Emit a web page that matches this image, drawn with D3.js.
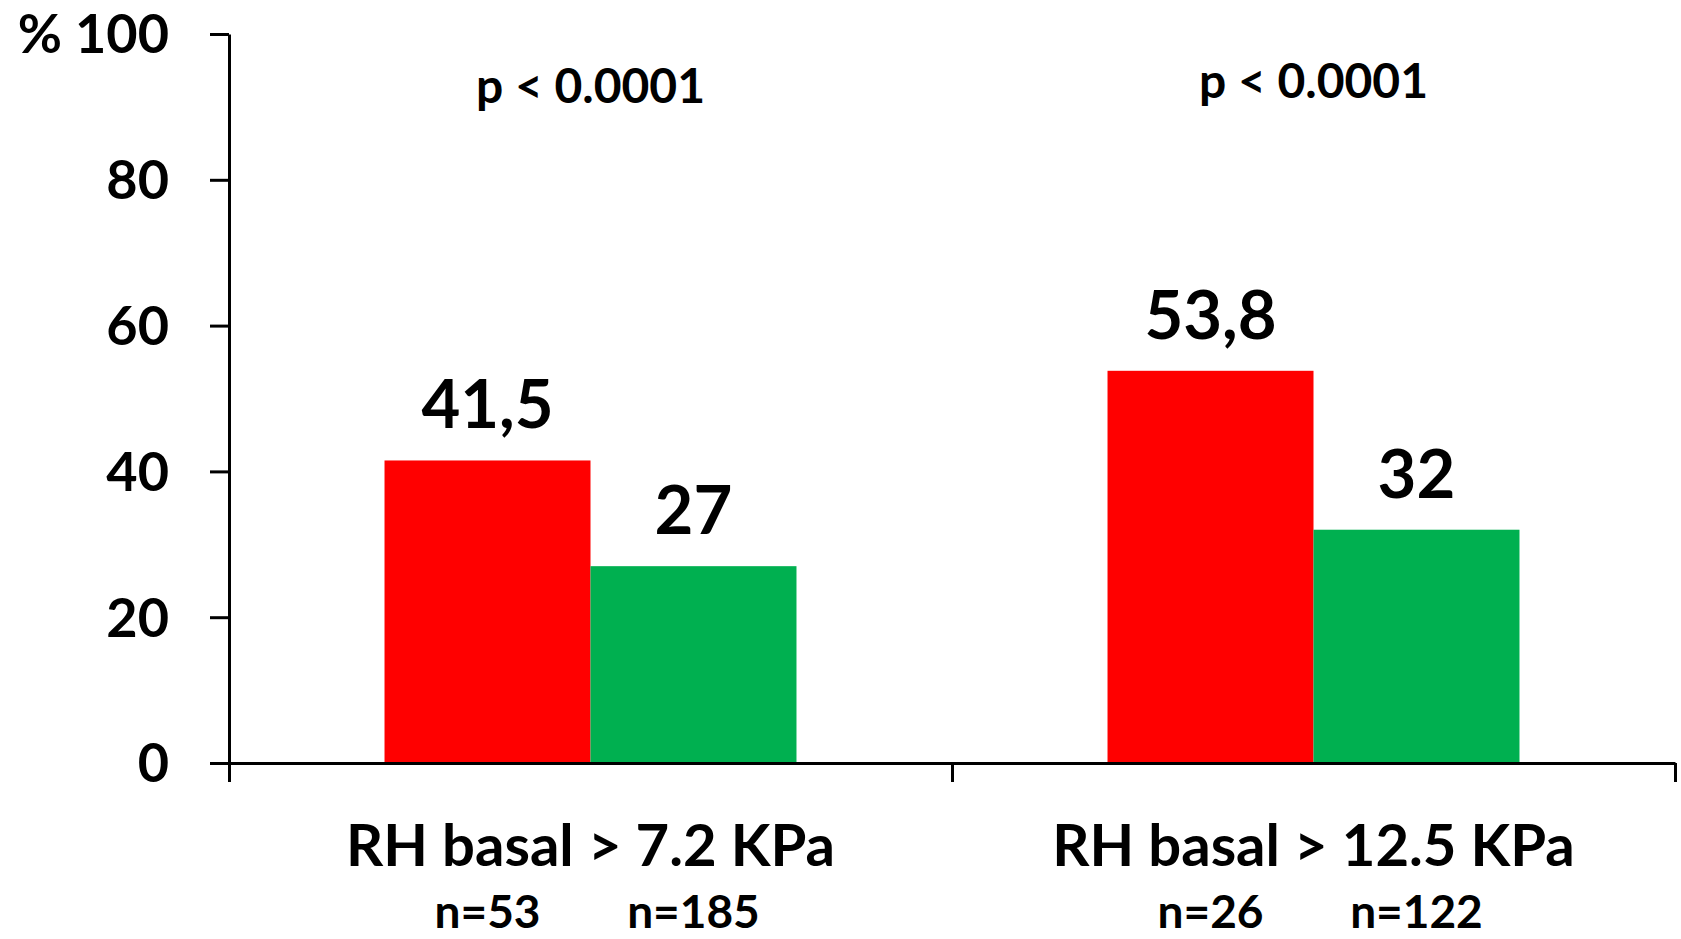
<!DOCTYPE html>
<html>
<head>
<meta charset="utf-8">
<script src="https://cdn.jsdelivr.net/npm/d3@7"></script>
<style>
  html, body { margin: 0; padding: 0; background: #fff; }
  svg { display: block; }
  text { font-family: Lato, "Open Sans", sans-serif; font-weight: 700; fill: #000; }
</style>
</head>
<body>
<svg id="chart" width="1681" height="939"></svg>
<script>
// ---- data ----
const categories = ["RH basal > 7.2 KPa", "RH basal > 12.5 KPa"];
const seriesNames = ["high", "low"];
const highValues = [41.5, 53.8];
const lowValues = [27, 32];
const highN = ["n=53", "n=26"];
const lowN = ["n=185", "n=122"];
const pValues = ["p < 0.0001", "p < 0.0001"];
const yTicks = [0, 20, 40, 60, 80, 100];
const seriesColors = ["#FF0000", "#00B050"];

(function () {
// ---- layout ----
const plotLeft = 229, plotRight = 1675, plotTop = 34, plotBottom = 763;

const svg = d3.select("#chart");

const y = d3.scaleLinear().domain([0, 100]).range([plotBottom, plotTop]);
const x0 = d3.scaleBand().domain(categories).range([plotLeft, plotRight]).padding(0);
const x1 = d3.scaleBand().domain(seriesNames).range([0, x0.bandwidth()])
  .paddingInner(0).paddingOuter(0.755);
const color = d3.scaleOrdinal().domain(seriesNames).range(seriesColors);

const locale = d3.formatLocale({ decimal: ",", thousands: ".", grouping: [3], currency: ["", ""] });
const fmtVal = v => Number.isInteger(v) ? String(v) : locale.format(".1f")(v);

const rows = categories.map((c, i) => ({
  cat: c,
  p: pValues[i],
  items: [
    { s: "high", v: highValues[i], n: highN[i] },
    { s: "low", v: lowValues[i], n: lowN[i] }
  ]
}));

const g = svg.append("g");
const groups = g.selectAll("g.grp").data(rows).join("g")
  .attr("class", "grp")
  .attr("transform", d => `translate(${x0(d.cat)},0)`);

groups.selectAll("rect").data(d => d.items).join("rect")
  .attr("x", d => x1(d.s))
  .attr("width", x1.bandwidth())
  .attr("y", d => y(d.v))
  .attr("height", d => y(0) - y(d.v))
  .attr("fill", d => color(d.s));

groups.selectAll("text.val").data(d => d.items).join("text")
  .attr("class", "val")
  .attr("x", d => x1(d.s) + x1.bandwidth() / 2)
  .attr("y", d => y(d.v) - 32)
  .attr("text-anchor", "middle")
  .attr("font-size", 67)
  .text(d => fmtVal(d.v));

groups.selectAll("text.n").data(d => d.items).join("text")
  .attr("class", "n")
  .attr("x", d => x1(d.s) + x1.bandwidth() / 2)
  .attr("y", 928)
  .attr("text-anchor", "middle")
  .attr("font-size", 46)
  .text(d => d.n);

groups.append("text")
  .attr("x", x0.bandwidth() / 2)
  .attr("y", 866)
  .attr("text-anchor", "middle")
  .attr("font-size", 58)
  .text(d => d.cat);

groups.append("text")
  .attr("x", x0.bandwidth() / 2)
  .attr("y", (d, i) => i === 0 ? 103 : 98)
  .attr("text-anchor", "middle")
  .attr("font-size", 48)
  .text(d => d.p);

const yAxis = d3.axisLeft(y).tickValues(yTicks).tickSize(19).tickSizeOuter(0).tickPadding(41)
  .tickFormat(d => d === 100 ? "% " + d : d);
const yg = svg.append("g").attr("transform", `translate(${plotLeft},0)`).call(yAxis);
yg.select(".domain").attr("stroke", "#000").attr("stroke-width", 3);
yg.selectAll(".tick line").attr("stroke", "#000").attr("stroke-width", 3);
yg.selectAll(".tick text").attr("font-size", 54).attr("font-family", "Lato, sans-serif")
  .attr("font-weight", 700).attr("fill", "#000").attr("dy", "0.35em");

const xb = d3.scaleLinear().domain([0, categories.length]).range([plotLeft, plotRight]);
const xAxis = d3.axisBottom(xb).tickValues(d3.range(categories.length + 1))
  .tickSize(19).tickSizeOuter(0).tickFormat("");
const xg = svg.append("g").attr("transform", `translate(0,${plotBottom})`).call(xAxis);
xg.select(".domain").attr("stroke", "#000").attr("stroke-width", 3);
xg.selectAll(".tick line").attr("stroke", "#000").attr("stroke-width", 3);
})();
</script>
</body>
</html>
